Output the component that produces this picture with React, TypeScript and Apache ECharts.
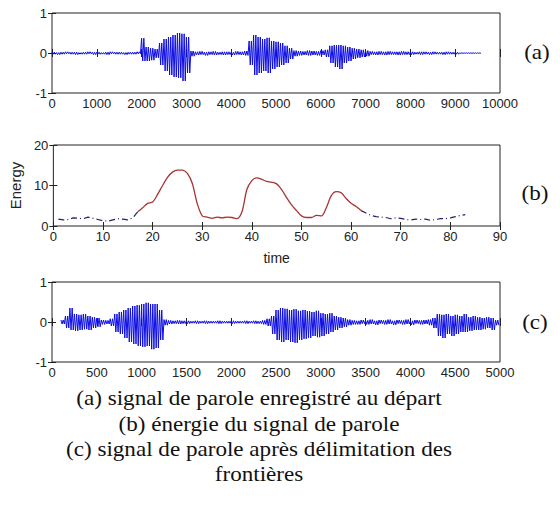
import React, { useEffect, useRef } from "react";
import * as echarts from "echarts";

// ---- Signal (a): envelope read every 100 samples, from x = 0 ----
const sigAStart = 0;
const sigAStep = 100;
const sigAHi = [
  0.02, 0.01, 0.02, 0.03, 0.02, 0.02, 0.01, 0.02, 0.03, 0.02,
  0.02, 0.01, 0.02, 0.03, 0.02, 0.02, 0.01, 0.02, 0.02, 0.03,
  0.37, 0.15, 0.12, 0.1, 0.25, 0.35, 0.4, 0.45, 0.5, 0.48,
  0.4, 0.05, 0.03, 0.04, 0.02, 0.03, 0.04, 0.02, 0.03, 0.03,
  0.02, 0.04, 0.03, 0.05, 0.3, 0.45, 0.4, 0.35, 0.38, 0.3,
  0.28, 0.25, 0.18, 0.12, 0.06, 0.05, 0.04, 0.06, 0.05, 0.04,
  0.06, 0.08, 0.18, 0.2, 0.2, 0.18, 0.15, 0.12, 0.1, 0.08,
  0.06, 0.04, 0.03, 0.04, 0.03, 0.04, 0.03, 0.03, 0.04, 0.03,
  0.03, 0.02, 0.03, 0.03, 0.02, 0.03, 0.02, 0.02, 0.03, 0.02,
  0.02, 0.005, 0.005, 0.005, 0.005, 0.005,
];
const sigALo = [
  -0.03, -0.04, -0.03, -0.02, -0.03, -0.04, -0.03, -0.03, -0.02, -0.04,
  -0.03, -0.03, -0.04, -0.02, -0.03, -0.03, -0.04, -0.03, -0.03, -0.02,
  -0.2, -0.2, -0.18, -0.12, -0.3, -0.45, -0.55, -0.6, -0.62, -0.7,
  -0.5, -0.08, -0.05, -0.04, -0.06, -0.04, -0.05, -0.04, -0.05, -0.04,
  -0.05, -0.04, -0.05, -0.06, -0.3, -0.55, -0.5, -0.45, -0.5, -0.4,
  -0.35, -0.3, -0.25, -0.15, -0.08, -0.06, -0.05, -0.06, -0.05, -0.06,
  -0.05, -0.1, -0.25, -0.35, -0.4, -0.25, -0.2, -0.15, -0.12, -0.1,
  -0.08, -0.04, -0.05, -0.04, -0.05, -0.04, -0.04, -0.05, -0.04, -0.04,
  -0.04, -0.03, -0.04, -0.03, -0.04, -0.03, -0.03, -0.04, -0.03, -0.03,
  -0.03, -0.01, -0.01, -0.01, -0.01, -0.01,
];

// ---- Energy (b) ----
const energyBlue1T = [1, 2, 3, 4, 5, 6, 7, 8, 9, 10, 11, 12, 13, 14, 15, 16, 17];
const energyBlue1V = [1.7, 1.5, 1.6, 2.0, 1.9, 1.8, 2.2, 1.9, 1.6, 1.3, 1.2, 1.5, 1.8, 1.7, 1.5, 2.0, 3.5];
const energyRedT = [
  17, 18, 19, 20, 21, 22, 23, 24, 25, 26, 27, 28, 29, 30, 31, 32, 33, 34, 35, 36, 37, 38, 39,
  40, 41, 42, 43, 44, 45, 46, 47, 48, 49, 50, 51, 52, 53, 54, 55, 56, 57, 58, 59, 60, 61, 62,
];
const energyRedV = [
  3.5, 4.5, 5.6, 5.9, 7.8, 10, 12, 13.3, 13.8, 13.8, 13, 10.5, 5.5, 2.5, 2.2, 1.9, 2.2, 2.0, 2.2, 2.1, 1.8, 3.5, 9.0,
  11.2, 11.9, 11.5, 11.0, 10.8, 10.4, 9.0, 7.0, 5.2, 3.8, 2.5, 2.1, 2.1, 2.6, 2.5, 4.5, 7.5, 8.5, 8.2, 6.8, 5.6, 4.8, 3.8,
];
const energyBlue2T = [62, 63, 64, 65, 66, 67, 68, 69, 70, 71, 72, 73, 74, 75, 76, 77, 78, 79, 80, 81, 82, 83];
const energyBlue2V = [3.8, 3.2, 2.6, 2.3, 2.2, 2.1, 1.8, 2.0, 1.9, 1.6, 1.5, 1.7, 1.6, 1.7, 1.4, 1.6, 1.8, 1.8, 2.0, 2.3, 2.6, 2.8];

// ---- Signal (c): envelope read every 50 samples, from x = 100 ----
const sigCStart = 100;
const sigCStep = 50;
const sigCHi = [
  0.05, 0.15, 0.35, 0.2, 0.18, 0.2, 0.15, 0.12, 0.1, 0.05, 0.04, 0.08,
  0.2, 0.25, 0.3, 0.35, 0.4, 0.42, 0.45, 0.48, 0.45, 0.45, 0.3, 0.06,
  0.04, 0.03, 0.04, 0.03, 0.03, 0.02, 0.03, 0.02, 0.03, 0.02, 0.02, 0.03,
  0.02, 0.02, 0.03, 0.02, 0.02, 0.03, 0.02, 0.03, 0.02, 0.04, 0.08,
  0.15, 0.3, 0.35, 0.33, 0.3, 0.32, 0.28, 0.3, 0.27, 0.25, 0.28, 0.22,
  0.2, 0.22, 0.15, 0.12, 0.1, 0.06, 0.04,
  0.03, 0.05, 0.04, 0.06, 0.03, 0.05, 0.04, 0.06, 0.03, 0.05, 0.04, 0.06,
  0.03, 0.05, 0.04, 0.05, 0.06, 0.1,
  0.2, 0.18, 0.2, 0.15, 0.18, 0.15, 0.2, 0.12, 0.15, 0.12, 0.1, 0.12, 0.1, 0.05,
];
const sigCLo = [
  -0.05, -0.15, -0.2, -0.22, -0.2, -0.18, -0.2, -0.15, -0.12, -0.06, -0.05, -0.1,
  -0.25, -0.3, -0.4, -0.5, -0.55, -0.6, -0.62, -0.6, -0.68, -0.65, -0.45, -0.08,
  -0.05, -0.04, -0.05, -0.04, -0.04, -0.03, -0.04, -0.03, -0.04, -0.03, -0.03, -0.04,
  -0.03, -0.03, -0.04, -0.03, -0.03, -0.04, -0.03, -0.04, -0.04, -0.06, -0.1,
  -0.3, -0.45, -0.5, -0.45, -0.5, -0.52, -0.45, -0.42, -0.4, -0.35, -0.38, -0.35,
  -0.3, -0.25, -0.2, -0.15, -0.12, -0.08, -0.06,
  -0.06, -0.04, -0.06, -0.05, -0.07, -0.04, -0.06, -0.05, -0.07, -0.04, -0.06, -0.05,
  -0.07, -0.04, -0.06, -0.05, -0.08, -0.15,
  -0.35, -0.4, -0.3, -0.35, -0.3, -0.25, -0.25, -0.22, -0.2, -0.2, -0.18, -0.15, -0.2, -0.08,
];

const captionLines = [
  "(a) signal de parole enregistré au départ",
  "(b) énergie du signal de parole",
  "(c) signal de parole après délimitation des",
  "frontières",
];
const panelLabels = ["(a)", "(b)", "(c)"];

// Each envelope sample is stroked twice (hi/lo, hi/lo) so the burst reads as a dense waveform.
function zigzag(start: number, step: number, hi: number[], lo: number[]) {
  const out: number[][] = [];
  for (let i = 0; i < hi.length; i++) {
    const x = start + i * step;
    out.push([x, hi[i]]);
    out.push([x + step / 4, lo[i]]);
    out.push([x + step / 2, hi[i]]);
    out.push([x + (3 * step) / 4, lo[i]]);
  }
  return out;
}
const pairs = (t: number[], v: number[]) => t.map((x, i) => [x, v[i]]);

const AX = "#222";
const SANS = "Liberation Sans, Arial, sans-serif";
const SERIF = "Liberation Serif, Times New Roman, serif";
const plain = (v: number) => String(v);

function xAx(grid: number, min: number, max: number, interval: number, top: boolean, extra: any = {}) {
  return {
    type: "value",
    gridIndex: grid,
    position: top ? "top" : "bottom",
    min,
    max,
    interval,
    axisLine: { show: false },
    axisTick: { show: true, inside: true, length: 4, lineStyle: { color: AX } },
    axisLabel: { show: !top, color: AX, fontSize: 13, fontFamily: SANS, margin: 4, formatter: plain },
    splitLine: { show: false },
    ...extra,
  };
}
function yAx(grid: number, min: number, max: number, interval: number, right: boolean, extra: any = {}) {
  return {
    type: "value",
    gridIndex: grid,
    position: right ? "right" : "left",
    min,
    max,
    interval,
    axisLine: { show: false },
    axisTick: { show: true, inside: true, length: 4, lineStyle: { color: AX } },
    axisLabel: { show: !right, color: AX, fontSize: 13, fontFamily: SANS, margin: 5, formatter: plain },
    splitLine: { show: false },
    ...extra,
  };
}

export default function App() {
  const ref = useRef<HTMLDivElement>(null);
  useEffect(() => {
    document.body.style.margin = "0";
    if (!ref.current) return;
    const chart = echarts.init(ref.current, undefined, { renderer: "svg" });
    const gridBase = { left: 52, width: 448, show: true, borderColor: AX, borderWidth: 1, backgroundColor: "transparent" };
    const blue = "#0c0ce4";
    const textStyle = (t: string, x: number, y: number) => ({
      type: "text",
      x,
      y,
      scaleX: 1.1,
      style: {
        text: t,
        fontFamily: SERIF,
        fontSize: 21,
        fill: "#111",
        textAlign: "center",
        textVerticalAlign: "middle",
      },
    });
    chart.setOption({
      animation: false,
      backgroundColor: "#fff",
      grid: [
        { ...gridBase, top: 13, height: 80 },
        { ...gridBase, top: 145, height: 81 },
        { ...gridBase, top: 282, height: 80 },
      ],
      xAxis: [
        xAx(0, 0, 10000, 1000, false),
        xAx(0, 0, 10000, 1000, true),
        xAx(1, 0, 90, 10, false, {
          name: "time",
          nameLocation: "middle",
          nameGap: 25,
          nameTextStyle: { color: AX, fontSize: 14, fontFamily: SANS },
        }),
        xAx(1, 0, 90, 10, true),
        xAx(2, 0, 5000, 500, false),
        xAx(2, 0, 5000, 500, true),
      ],
      yAxis: [
        yAx(0, -1, 1, 1, false),
        yAx(0, -1, 1, 1, true),
        yAx(1, 0, 20, 10, false, {
          name: "Energy",
          nameLocation: "middle",
          nameGap: 29,
          nameTextStyle: { color: AX, fontSize: 15, fontFamily: SANS },
        }),
        yAx(1, 0, 20, 10, true),
        yAx(2, -1, 1, 1, false),
        yAx(2, -1, 1, 1, true),
      ],
      series: [
        {
          type: "line",
          xAxisIndex: 0,
          yAxisIndex: 0,
          data: zigzag(sigAStart, sigAStep, sigAHi, sigALo),
          showSymbol: false,
          lineStyle: { color: blue, width: 1 },
        },
        {
          type: "line",
          xAxisIndex: 2,
          yAxisIndex: 2,
          data: pairs(energyBlue1T, energyBlue1V),
          showSymbol: false,
          lineStyle: { color: "#22226e", width: 1.2, type: [6, 3, 1, 3] },
        },
        {
          type: "line",
          xAxisIndex: 2,
          yAxisIndex: 2,
          data: pairs(energyRedT, energyRedV),
          showSymbol: false,
          smooth: 0.3,
          lineStyle: { color: "#a83434", width: 1.3 },
        },
        {
          type: "line",
          xAxisIndex: 2,
          yAxisIndex: 2,
          data: pairs(energyBlue2T, energyBlue2V),
          showSymbol: false,
          lineStyle: { color: "#22226e", width: 1.2, type: [6, 3, 1, 3] },
        },
        {
          type: "line",
          xAxisIndex: 4,
          yAxisIndex: 4,
          data: zigzag(sigCStart, sigCStep, sigCHi, sigCLo),
          showSymbol: false,
          lineStyle: { color: blue, width: 1 },
        },
      ],
      graphic: [
        textStyle(panelLabels[0], 537, 52),
        textStyle(panelLabels[1], 535, 193),
        textStyle(panelLabels[2], 535, 322),
        textStyle(captionLines[0], 259, 398),
        textStyle(captionLines[1], 259, 424),
        textStyle(captionLines[2], 259, 449),
        textStyle(captionLines[3], 259, 474),
      ],
    });
    return () => chart.dispose();
  }, []);
  return <div ref={ref} style={{ width: 560, height: 516 }} />;
}
